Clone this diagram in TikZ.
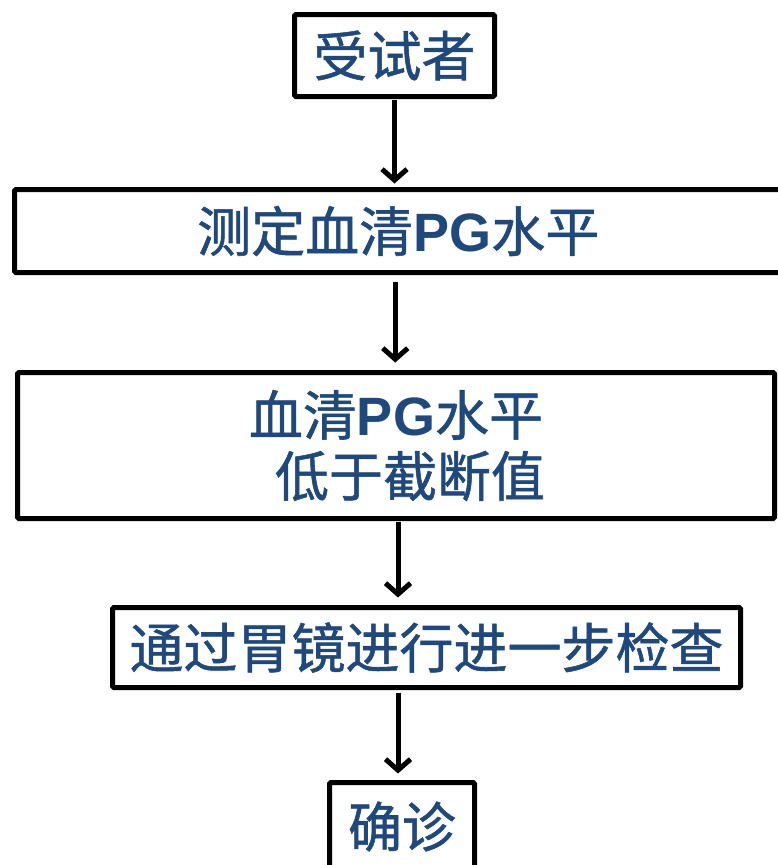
\documentclass[tikz,border=0pt]{standalone}
\usepackage{fontspec}
\usetikzlibrary{arrows.meta}
\newfontfamily\cjk[FakeBold=1]{Noto Sans CJK SC}
\newfontfamily\lat{Liberation Sans}
\definecolor{txtblue}{HTML}{1F497D}
\newcommand{\PGtxt}{{\lat\bfseries PG}}
\tikzset{
  box/.style={draw=black, line width=5pt, rounded corners=1.5pt, fill=white,
    inner sep=0pt, outer sep=0pt, text=txtblue, align=center,
    font=\cjk\fontsize{54}{63}\selectfont},
  arr/.style={line width=5pt, -{Straight Barb[length=11pt,width=25pt]}}
}
\begin{document}
\begin{tikzpicture}[x=1pt,y=1pt]
\useasboundingbox (0,0) rectangle (777,-865);
\node[box, minimum width=200pt, minimum height=82pt] (b1) at (394.5,-55.5) {受试者};
\node[box, minimum width=767.5pt, minimum height=83pt] (b2) at (398.25,-231) {\raisebox{-3pt}{测定血清\PGtxt 水平}};
\node[box, minimum width=757pt, minimum height=146pt] (b3) at (396,-445.5) {血清\PGtxt 水平\\[-2pt]\hspace*{28pt}低于截断值};
\node[box, minimum width=628pt, minimum height=80pt] (b4) at (426.5,-647.5) {通过胃镜进行进一步检查};
\node[box, minimum width=145pt, minimum height=88pt] (b5) at (402,-826.5) {\raisebox{2pt}{确诊}};
\draw[arr, shorten <=3pt, shorten >=6pt] (b1.south) -- (b1.south |- b2.north);
\draw[arr, shorten <=9pt, shorten >=10pt] ([xshift=-3pt]b2.south) -- ([xshift=-3pt]b2.south |- b3.north);
\draw[arr, shorten <=3pt, shorten >=10pt] ([xshift=2pt]b3.south) -- ([xshift=2pt]b3.south |- b4.north);
\draw[arr, shorten <=5pt, shorten >=9pt] ([xshift=-28.5pt]b4.south) -- ([xshift=-28.5pt]b4.south |- b5.north);
\end{tikzpicture}
\end{document}
